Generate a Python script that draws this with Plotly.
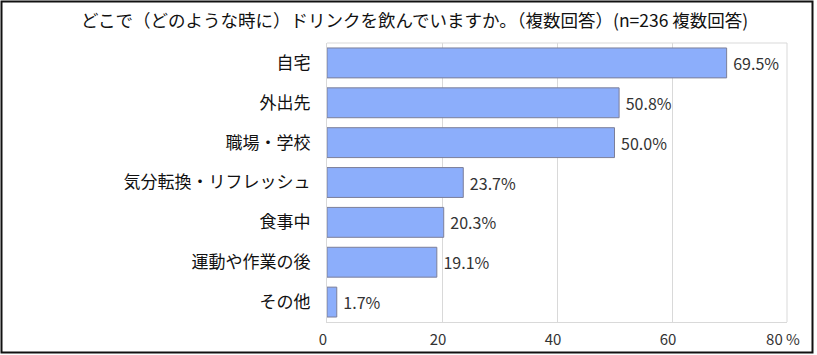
import plotly.graph_objects as go

title = "どこで（どのような時に）ドリンクを飲んでいますか。（複数回答）(n=236 複数回答)"
categories = ["自宅", "外出先", "職場・学校", "気分転換・リフレッシュ", "食事中", "運動や作業の後", "その他"]
values = [69.5, 50.8, 50.0, 23.7, 20.3, 19.1, 1.7]
tick_vals = [0, 20, 40, 60, 80]
tick_text = ["0", "20", "40", "60", "80 %"]

W, H = 817, 355
L, R, T, B = 327, 787, 43, 322
FONT = "Noto Sans CJK JP"

fig = go.Figure(go.Bar(
    y=categories,
    x=values,
    orientation="h",
    marker=dict(color="#8CAEFB", line=dict(color="#7C7F99", width=1)),
    text=[f" {v:.1f}%" for v in values],
    textposition="outside",
    textfont=dict(family=FONT, size=16, color="#333333"),
    cliponaxis=False,
    width=0.75,
))

def px(x):
    return (x - L) / (R - L)

def py(y):
    return (B - y) / (B - T)

fig.update_layout(
    width=W, height=H,
    margin=dict(l=L, r=W - R, t=T, b=H - B, autoexpand=False),
    paper_bgcolor="white",
    plot_bgcolor="white",
    font=dict(family=FONT, color="#111111"),
    showlegend=False,
    xaxis=dict(
        range=[0, 80],
        tickvals=tick_vals,
        ticktext=tick_text,
        showgrid=True,
        gridcolor="#D9D9D9",
        gridwidth=1,
        zeroline=False,
        showline=True,
        linecolor="#D9D9D9",
        mirror=False,
        ticks="",
        automargin=False,
        ticklabelshift=-4,
        ticklabelstandoff=4,
        tickfont=dict(family=FONT, size=15, color="#333333"),
        fixedrange=True,
    ),
    yaxis=dict(
        categoryorder="array",
        categoryarray=categories[::-1],
        showgrid=False,
        zeroline=False,
        showline=True,
        linecolor="#D9D9D9",
        ticks="",
        automargin=False,
        ticklabelstandoff=12,
        tickfont=dict(family=FONT, size=17, color="#111111"),
        fixedrange=True,
    ),
    annotations=[dict(
        text=title, xref="paper", yref="paper",
        x=px(414), y=py(19), xanchor="center", yanchor="middle",
        showarrow=False, font=dict(family=FONT, size=17.5, color="#111111"),
    )],
    shapes=[
        dict(type="rect", xref="paper", yref="paper",
             x0=px(1.5), x1=px(812.5), y0=py(352.5), y1=py(1.5),
             line=dict(color="#111111", width=2), layer="above"),
        dict(type="line", xref="paper", yref="paper",
             x0=0, x1=1, y0=1, y1=1,
             line=dict(color="#D9D9D9", width=1)),
        dict(type="line", xref="paper", yref="paper",
             x0=1, x1=1, y0=0, y1=1,
             line=dict(color="#D9D9D9", width=1)),
    ],
)

fig.write_html("out.html", config={"displayModeBar": False},
               post_script="document.body.style.margin='0';")
